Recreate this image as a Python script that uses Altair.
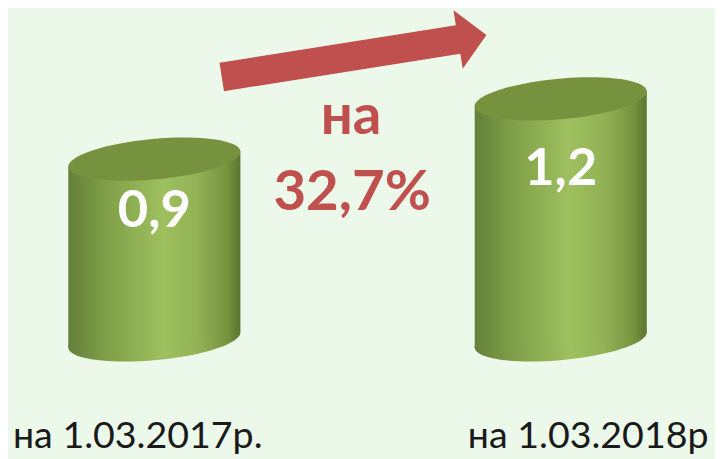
import altair as alt
import pandas as pd

# ---- data ----
categories = ["на 1.03.2017р.", "на 1.03.2018р"]
values = [0.9, 1.2]
value_labels = ["0,9", "1,2"]
change_word = "на"
change_label = "32,7%"

# ---- style ----
BG = "#ebf8ea"
RED = "#c0504d"
TOP = "#77923f"
FONT = "Lato"
HALF_W = 0.2117      # half cylinder width (x units)
TILT = 0.079         # right edge higher than left edge (y units)
TILT_DEG = 5.25
LABEL_POS = 0.71     # value label placed at this fraction of the bar

idx = list(range(len(categories)))
base = pd.DataFrame({"cat": categories, "i": idx, "v": values, "lab": value_labels})

body_rows = []
for i, c, v in zip(idx, categories, values):
    body_rows.append({"cat": c, "x": i - HALF_W, "top": v - TILT / 2, "bot": -TILT / 2})
    body_rows.append({"cat": c, "x": i + HALF_W, "top": v + TILT / 2, "bot": TILT / 2})
body = pd.DataFrame(body_rows)

xs = alt.Scale(domain=[0, 1], range=[148, 559], nice=False, zero=False)
ys = alt.Scale(domain=[-0.581, 1.640], nice=False, zero=False)

grad = alt.Gradient(
    gradient="linear", x1=0, x2=1, y1=0, y2=0,
    stops=[
        alt.GradientStop(color="#62803a", offset=0),
        alt.GradientStop(color="#7e9d47", offset=0.2),
        alt.GradientStop(color="#9ec05e", offset=0.55),
        alt.GradientStop(color="#92b255", offset=0.75),
        alt.GradientStop(color="#76943f", offset=0.92),
        alt.GradientStop(color="#5a7530", offset=1),
    ],
)

k = 0.235
c = 0.5523
ELLIPSE = (
    f"M -1 0 C -1 {-k*c:.4f} {-c} {-k} 0 {-k} "
    f"C {c} {-k} 1 {-k*c:.4f} 1 0 "
    f"C 1 {k*c:.4f} {c} {k} 0 {k} "
    f"C {-c} {k} -1 {k*c:.4f} -1 0 Z"
)
ARROW = "M -1 -0.107 L 0.786 -0.107 L 0.786 -0.221 L 1 0 L 0.786 0.221 L 0.786 0.107 L -1 0.107 Z"
ELL_SIZE = 174.8 ** 2
ARROW_SIZE = 271 ** 2

bchart = alt.Chart(base)

bottom = bchart.transform_calculate(zero="0").mark_point(
    shape=ELLIPSE, size=ELL_SIZE, filled=True, fill=grad, opacity=1,
    strokeWidth=0, angle=360 - TILT_DEG,
).encode(
    x=alt.X("i:Q", scale=xs, axis=None),
    y=alt.Y("zero:Q", scale=ys, axis=None),
)

cyl = alt.Chart(body).mark_area(fill=grad, opacity=1).encode(
    x=alt.X("x:Q", scale=xs, axis=None),
    y=alt.Y("top:Q", scale=ys, axis=None),
    y2="bot:Q",
    detail="cat:N",
)

top = bchart.mark_point(
    shape=ELLIPSE, size=ELL_SIZE, filled=True, fill=TOP, opacity=1,
    strokeWidth=0, angle=360 - TILT_DEG,
).encode(
    x=alt.X("i:Q", scale=xs, axis=None),
    y=alt.Y("v:Q", scale=ys, axis=None),
)

vlabels = bchart.transform_calculate(ly=f"datum.v * {LABEL_POS}").mark_text(
    font=FONT, fontSize=53, fontWeight="bold", color="white", baseline="middle", align="center",
).encode(
    x=alt.X("i:Q", scale=xs, axis=None),
    y=alt.Y("ly:Q", scale=ys, axis=None),
    text="lab:N",
)

xl1 = bchart.transform_filter(alt.datum.i == 0).mark_text(
    font=FONT, fontSize=38, color="#1a1a1a", align="left", baseline="alphabetic", dx=-143,
).encode(x=alt.X("i:Q", scale=xs, axis=None), y=alt.value(442), text="cat:N")

xl2 = bchart.transform_filter(alt.datum.i == 1).mark_text(
    font=FONT, fontSize=38, color="#1a1a1a", align="left", baseline="alphabetic", dx=-94,
).encode(x=alt.X("i:Q", scale=xs, axis=None), y=alt.value(442), text="cat:N")

ann = pd.DataFrame({"w": [change_word], "p": [change_label]})
achart = alt.Chart(ann)
arrow = achart.mark_point(
    shape=ARROW, size=ARROW_SIZE, filled=True, fill=RED, opacity=1, strokeWidth=0, angle=351.0,
).encode(x=alt.value(350), y=alt.value(46))
word = achart.mark_text(
    font=FONT, fontSize=57, fontWeight="bold", color=RED, align="center", baseline="alphabetic",
).encode(x=alt.value(347), y=alt.value(125), text="w:N")
pct = achart.mark_text(
    font=FONT, fontSize=57, fontWeight="bold", color=RED, align="center", baseline="alphabetic",
).encode(x=alt.value(348), y=alt.value(202), text="p:N")

chart = alt.layer(bottom, cyl, top, vlabels, xl1, xl2, arrow, word, pct).properties(
    width=715, height=451, background=BG, padding=0,
    autosize=alt.AutoSizeParams(type="none"),
).configure_view(stroke=None)

chart.save("out.html", embed_options={"renderer": "svg", "actions": False})
